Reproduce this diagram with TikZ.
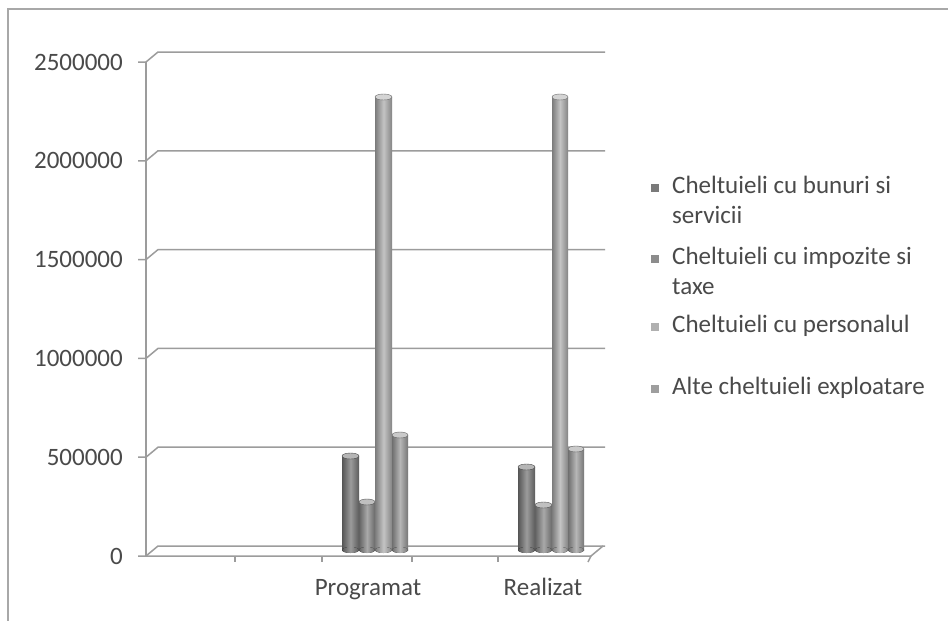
\documentclass[tikz,border=0pt]{standalone}
\usepackage{fontspec}
\setmainfont{Carlito}
\definecolor{gridgray}{HTML}{9C9C9C}
\definecolor{framegray}{HTML}{A8A8A8}
\definecolor{txtgray}{HTML}{4A4A4A}
\definecolor{serA}{HTML}{7A7A7A}
\definecolor{serB}{HTML}{8C8C8C}
\definecolor{serC}{HTML}{B0B0B0}
\definecolor{serD}{HTML}{9E9E9E}
\tikzset{
  gridline/.style={draw=gridgray, line width=1.5pt},
  framed/.style={draw=framegray, line width=1.5pt},
  ticklabel/.style={anchor=east, inner sep=0pt, text=txtgray, font=\fontsize{25}{30}\selectfont},
  catlabel/.style={anchor=base, inner sep=0pt, text=txtgray, font=\fontsize{25}{30}\selectfont},
  legtext/.style={anchor=base west, inner sep=0pt, text=txtgray, font=\fontsize{25}{30}\selectfont},
  legkey/.style={draw=none, minimum size=8pt, inner sep=0pt, anchor=south west},
}
% cylinder bar: xl, xr, top, colour
\newcommand{\cylbar}[4]{%
  \fill[left color=#4!70!black, right color=#4!75!black, middle color=#4!75!white]
    (#1,#3) rectangle (#2,550);
  \fill[left color=#4!70!black, right color=#4!75!black, middle color=#4!75!white]
    ({(#1+#2)/2},550) ellipse [x radius={(#2-#1)/2}, y radius=3];
  \fill[#4!55!white] ({(#1+#2)/2},#3) ellipse [x radius={(#2-#1)/2}, y radius=3];
  \draw[#4!60!black, line width=0.4pt] ({(#1+#2)/2},#3) ellipse [x radius={(#2-#1)/2}, y radius=3];
}
\begin{document}
\begin{tikzpicture}[x=1pt,y=-1pt]
\useasboundingbox (0,0) rectangle (948,621);
\fill[white] (0,0) rectangle (948,621);
% outer frame
\draw[framed] (8,621) -- (8,9) -- (948,9);
% gridlines and value labels
\foreach \i/\v in {0/0,1/500000,2/1000000,3/1500000,4/2000000,5/2500000}{
  \pgfmathsetmacro{\fy}{556-98.8*\i}
  \draw[gridline] (138,\fy) -- (146,\fy) -- (158,\fy-10) -- (605,\fy-10);
  \node[ticklabel] (lab\i) at (123,\fy) {\v};
}
% vertical axis
\draw[gridline] (146,62) -- (146,556);
% floor
\draw[gridline] (146,556) -- (591,556) -- (603,546);
\foreach \t in {235,322,412,498}{\draw[gridline] (\t,556) -- (\t,562);}
\draw[gridline] (591,556) -- (588,562);
% bars Programat
\cylbar{342}{359}{456}{serA}
\cylbar{359}{375}{502}{serB}
\cylbar{375}{392}{97}{serC}
\cylbar{392}{408}{435}{serD}
% bars Realizat
\cylbar{518}{535}{467}{serA}
\cylbar{535}{552}{505}{serB}
\cylbar{552}{568}{97}{serC}
\cylbar{568}{584}{449}{serD}
% category labels
\node[catlabel] (cat1) at (368,595) {Programat};
\node[catlabel] (cat2) at (543,595) {Realizat};
% legend
\node[legkey, fill=serA] (k1) at (651,192) {};
\node[legtext] (l1a) at (672,193) {Cheltuieli cu bunuri si};
\node[legtext] (l1b) at (672,223) {servicii};
\node[legkey, fill=serB] (k2) at (651,263) {};
\node[legtext] (l2a) at (672,264) {Cheltuieli cu impozite si};
\node[legtext] (l2b) at (672,294) {taxe};
\node[legkey, fill=serC] (k3) at (651,331) {};
\node[legtext] (l3) at (672,332) {Cheltuieli cu personalul};
\node[legkey, fill=serD] (k4) at (651,393) {};
\node[legtext] (l4) at (672,394) {Alte cheltuieli exploatare};
\end{tikzpicture}
\end{document}
